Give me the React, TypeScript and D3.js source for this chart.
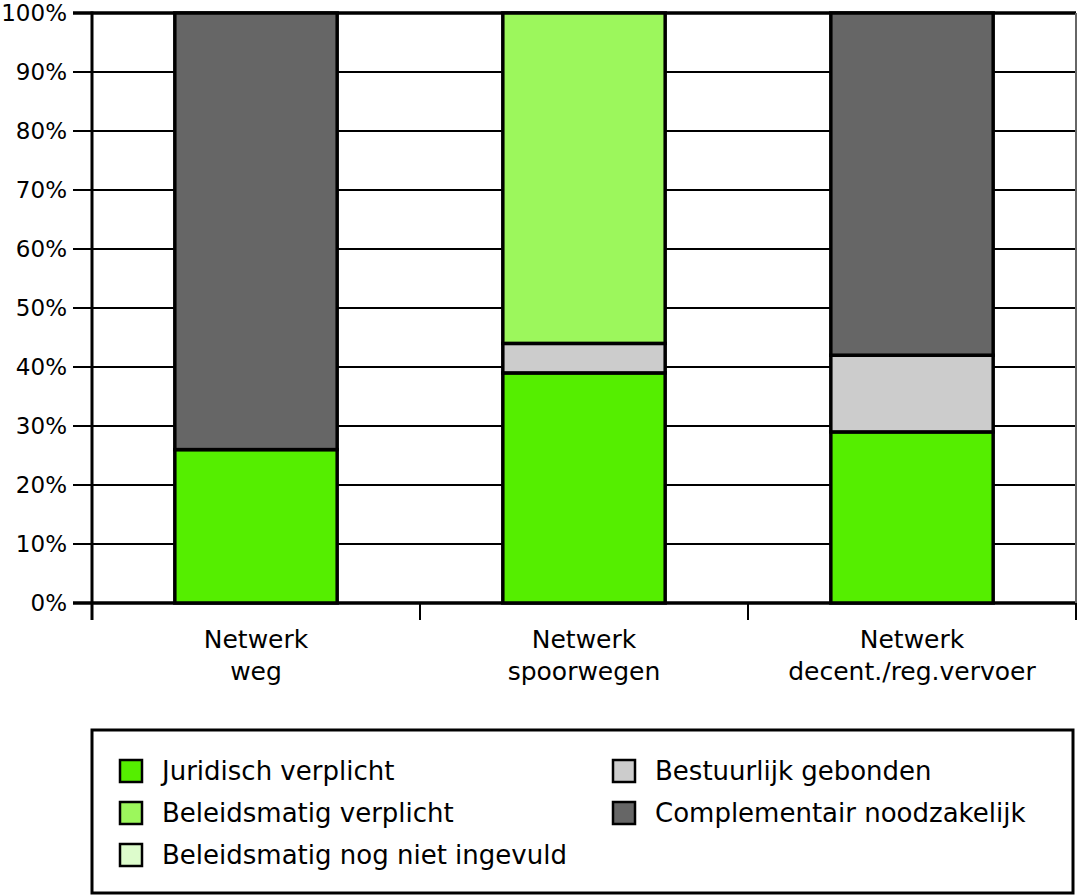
import React from "react";
import * as d3 from "d3";

const categories = [["Netwerk", "weg"], ["Netwerk", "spoorwegen"], ["Netwerk", "decent./reg.vervoer"]];
const seriesNames = [
  "Juridisch verplicht",
  "Beleidsmatig verplicht",
  "Beleidsmatig nog niet ingevuld",
  "Bestuurlijk gebonden",
  "Complementair noodzakelijk",
];
const seriesColors = ["#55ee00", "#9cf75c", "#ddfccc", "#cccccc", "#666666"];
// stacking order bottom->top: Juridisch, Bestuurlijk, Beleidsmatig verplicht, nog niet ingevuld, Complementair
const juridisch = [26, 39, 29];
const bestuurlijk = [0, 5, 13];
const beleidsmatig = [0, 56, 0];
const nogNiet = [0, 0, 0];
const complementair = [74, 0, 58];
const yTicks = [0, 10, 20, 30, 40, 50, 60, 70, 80, 90, 100];

const W = 1078, H = 895;
const FONT = "'DejaVu Sans', sans-serif";

export default function App() {
  const x = d3.scaleBand<number>().domain([0, 1, 2]).range([92, 1076]).paddingInner(0).paddingOuter(0);
  const y = d3.scaleLinear().domain([0, 100]).range([603, 13]);
  const bw = x.bandwidth() * 0.495;

  const stackSeries = [
    { vals: juridisch, color: seriesColors[0] },
    { vals: bestuurlijk, color: seriesColors[3] },
    { vals: beleidsmatig, color: seriesColors[1] },
    { vals: nogNiet, color: seriesColors[2] },
    { vals: complementair, color: seriesColors[4] },
  ];

  const rects: React.ReactNode[] = [];
  [0, 1, 2].forEach((ci) => {
    let base = 0;
    stackSeries.forEach((s, si) => {
      const v = s.vals[ci];
      if (v > 0) {
        const cx = x(ci)! + x.bandwidth() / 2;
        rects.push(
          <rect key={`${ci}-${si}`} x={cx - bw / 2} y={y(base + v)} width={bw} height={y(base) - y(base + v)}
            fill={s.color} stroke="#000" strokeWidth={3.5} />
        );
        base += v;
      }
    });
  });

  const legendItems = [
    { name: seriesNames[0], color: seriesColors[0], col: 0, row: 0 },
    { name: seriesNames[1], color: seriesColors[1], col: 0, row: 1 },
    { name: seriesNames[2], color: seriesColors[2], col: 0, row: 2 },
    { name: seriesNames[3], color: seriesColors[3], col: 1, row: 0 },
    { name: seriesNames[4], color: seriesColors[4], col: 1, row: 1 },
  ];

  return (
    <svg width={W} height={H} style={{ position: "absolute", left: 0, top: 0 }} fontFamily={FONT}>
      <rect width={W} height={H} fill="#fff" />
      {/* gridlines */}
      {yTicks.map((t) => (
        <line key={t} x1={73} x2={1076} y1={y(t)} y2={y(t)} stroke="#000" strokeWidth={t === 100 || t === 0 ? 3.5 : 2} />
      ))}
      {/* right border */}
      <line x1={1076} x2={1076} y1={y(100)} y2={y(0)} stroke="#666" strokeWidth={2} />
      {rects}
      {/* left axis */}
      <line x1={92} x2={92} y1={y(100) - 1.5} y2={620} stroke="#000" strokeWidth={3} />
      {/* x ticks */}
      {[0, 1, 2].map((i) => (
        <line key={i} x1={x(i)! + x.bandwidth()} x2={x(i)! + x.bandwidth()} y1={y(0)} y2={620} stroke="#000" strokeWidth={2} />
      ))}
      {/* y labels */}
      {yTicks.map((t) => (
        <text key={t} x={67} y={y(t)} dy="0.36em" textAnchor="end" fontSize={23} fill="#000">{t}%</text>
      ))}
      {/* category labels */}
      {categories.map((c, i) => (
        <text key={i} textAnchor="middle" fontSize={25} fill="#000">
          {c.map((line, li) => (
            <tspan key={li} x={x(i)! + x.bandwidth() / 2} y={648 + li * 32}>{line}</tspan>
          ))}
        </text>
      ))}
      {/* legend */}
      <rect x={92} y={730} width={981} height={163} fill="#fff" stroke="#000" strokeWidth={3} />
      {legendItems.map((it) => {
        const sx = it.col === 0 ? 120 : 613;
        const cy = 771 + it.row * 42;
        return (
          <g key={it.name}>
            <rect x={sx} y={cy - 11} width={22} height={22} fill={it.color} stroke="#000" strokeWidth={2.5} />
            <text x={sx + 42} y={cy + 9} fontSize={26} fill="#000">{it.name}</text>
          </g>
        );
      })}
    </svg>
  );
}
